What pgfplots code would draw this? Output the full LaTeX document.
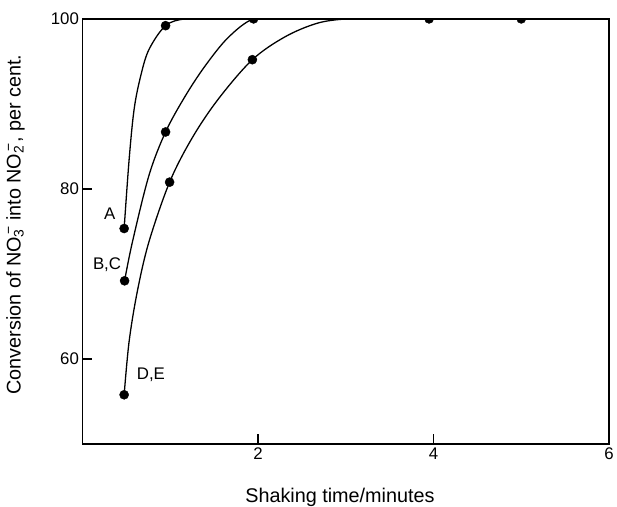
\documentclass[border=0pt]{standalone}
\usepackage{fontspec}
\setmainfont{Liberation Sans}
\usepackage{pgfplots}
\pgfplotsset{compat=1.18}
\begin{document}
\begin{tikzpicture}
\begin{axis}[
  scale only axis, width=530bp, height=428bp,
  xmin=0, xmax=6, ymin=50, ymax=100,
  xtick={2,4,6}, ytick={60,80,100},
  tick align=inside, xtick pos=bottom, ytick pos=left,
  major tick length=10bp,
  tick style={line width=1.3bp, black},
  axis line style={line width=1.6bp},
  ticklabel style={font=\fontsize{17}{20}\selectfont},
  /pgf/number format/assume math mode=true,
  xlabel={Shaking time/minutes},
  ylabel={Conversion of NO\rlap{\textsubscript{3}}\textsuperscript{\,\char"2212}\ into NO\rlap{\textsubscript{2}}\textsuperscript{\,\char"2212}, per cent.},
  label style={font=\fontsize{20}{24}\selectfont},
  xlabel style={at={(axis description cs:0.489,0)}, anchor=north, inner sep=0pt, yshift=-44bp},
  ylabel style={at={(axis description cs:0,0.516)}, anchor=south, inner sep=0pt, yshift=58bp},
  clip marker paths=true,
]
% curves
\addplot[line width=1.3bp, smooth, tension=0.55] coordinates {
  (0.475,75.35)(0.532,83.5)(0.589,89.4)(0.664,93.3)(0.758,96.4)(0.947,99.2)(1.17,100)(1.5,100)};
\addplot[line width=1.3bp, smooth, tension=0.55] coordinates {
  (0.48,69.2)(0.57,73.8)(0.758,81.6)(0.947,86.7)(1.17,90.9)(1.40,94.5)(1.66,97.8)(1.95,100)(2.3,100)};
\addplot[line width=1.3bp, smooth, tension=0.55] coordinates {
  (0.475,55.8)(0.532,62.1)(0.626,68.0)(0.758,73.8)(0.993,80.8)(1.25,86.0)(1.55,90.6)(1.936,95.2)(2.31,97.9)(2.68,99.5)(3.02,100)(3.4,100)};
% data points
\addplot[only marks, mark=*, mark size=4.6bp, black] coordinates {
  (0.475,75.35)(0.947,99.2)};
\addplot[only marks, mark=*, mark size=4.6bp, black] coordinates {
  (0.48,69.2)(0.947,86.7)(1.95,100)};
\addplot[only marks, mark=*, mark size=4.6bp, black] coordinates {
  (0.475,55.8)(0.993,80.8)(1.936,95.2)(3.95,100)(5.0,100)};
\node[font=\fontsize{17}{20}\selectfont] at (axis cs:0.31,77.1) {A};
\node[font=\fontsize{17}{20}\selectfont] at (axis cs:0.28,71.1) {B,C};
\node[font=\fontsize{17}{20}\selectfont] at (axis cs:0.78,58.2) {D,E};
\end{axis}
\path (current axis.south west) ++(-83bp,-60bp);
\path (current axis.north east) ++(4bp,19bp);
\end{tikzpicture}
\end{document}
